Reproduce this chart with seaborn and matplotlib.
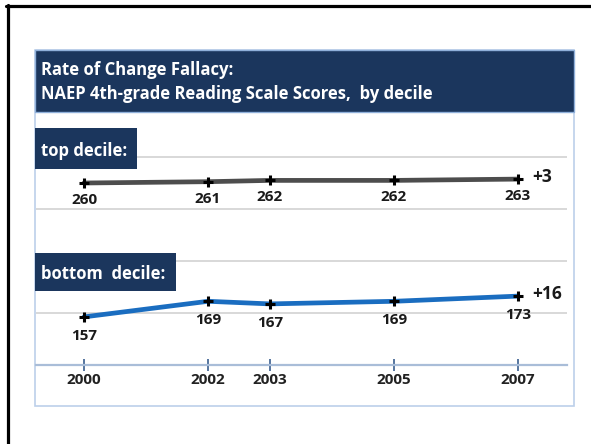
import matplotlib
matplotlib.use("Agg")
import matplotlib.pyplot as plt
from matplotlib.patches import Rectangle
from matplotlib.lines import Line2D
import pandas as pd
import seaborn as sns

# ---- data ----
years = [2000, 2002, 2003, 2005, 2007]
top_decile = [260, 261, 262, 262, 263]
bottom_decile = [157, 169, 167, 169, 173]
title_lines = ["Rate of Change Fallacy:", "NAEP 4th-grade Reading Scale Scores,  by decile"]
section_labels = ["top decile:", "bottom  decile:"]

sns.set_theme(style="white")
plt.rcParams["font.family"] = ["Open Sans", "DejaVu Sans"]

W, H = 591, 444
fig = plt.figure(figsize=(W / 100, H / 100), dpi=100)
fig.patch.set_facecolor("white")

def fx(x):
    return x / W

def fy(y):
    return 1 - y / H

def rect_px(x0, y0, x1, y1, **kw):
    r = Rectangle((fx(x0), fy(y1)), fx(x1) - fx(x0), fy(y0) - fy(y1),
                  transform=fig.transFigure, **kw)
    fig.add_artist(r)
    return r

NAVY = "#1B365D"

# outer frame (left + top only visible)
fig.add_artist(Line2D([fx(6), fx(591)], [fy(6.5), fy(6.5)], transform=fig.transFigure,
                      color="black", lw=2.3, zorder=10))
fig.add_artist(Line2D([fx(7.5), fx(7.5)], [fy(5), fy(444)], transform=fig.transFigure,
                      color="black", lw=2.3, zorder=10))

# panel
rect_px(35, 50, 574, 406, facecolor="white", edgecolor="#BCD0EA", lw=1.2, zorder=-1)

# axes
ax_left, ax_right, ax_top, ax_bottom = 36, 567, 112, 365
ax = fig.add_axes([fx(ax_left), fy(ax_bottom), fx(ax_right) - fx(ax_left), fy(ax_top) - fy(ax_bottom)])
ax.set_facecolor("none")

df = pd.DataFrame({"year": years + years,
                   "score": top_decile + bottom_decile,
                   "series": ["top"] * len(years) + ["bottom"] * len(years)})

sns.lineplot(data=df[df.series == "top"], x="year", y="score", ax=ax, color="#4D4D4D",
             linewidth=3.4, marker="+", markersize=6.5, markeredgewidth=2.2,
             markeredgecolor="black", legend=False, zorder=4)
sns.lineplot(data=df[df.series == "bottom"], x="year", y="score", ax=ax, color="#1A6DC0",
             linewidth=3.4, marker="+", markersize=6.5, markeredgewidth=2.2,
             markeredgecolor="black", legend=False, zorder=4)

ymin = 120
ymax = 120 + (ax_bottom - ax_top) / 1.3
xmin = 2000 - (84 - ax_left) / 62
xmax = 2000 + (ax_right - 84) / 62
ax.set_xlim(xmin, xmax)
ax.set_ylim(ymin, ymax)
ax.set_yticks([160, 200, 240, 280])
ax.yaxis.grid(True, color="#D6D6D6", lw=1.3)
ax.set_yticklabels([])
ax.tick_params(axis="y", length=0, left=False)
ax.set_xticks(years)
ax.set_xticklabels([str(y) for y in years], fontsize=11, fontweight="bold", color="#222222")
ax.tick_params(axis="x", bottom=True, direction="inout", length=8, width=1.4,
               color="#55759F", pad=2)
ax.set_xlabel("")
ax.set_ylabel("")
for s in ["left", "right", "top"]:
    ax.spines[s].set_visible(False)
ax.spines["bottom"].set_color("#A9BDD8")
ax.spines["bottom"].set_linewidth(1.6)

# data labels
for x, v in zip(years, top_decile):
    ax.annotate(str(v), (x, v), xytext=(0, -17), textcoords="offset pixels",
                ha="center", va="center", fontsize=11, fontweight="bold", color="#1A1A1A")
for x, v in zip(years, bottom_decile):
    ax.annotate(str(v), (x, v), xytext=(0, -19), textcoords="offset pixels",
                ha="center", va="center", fontsize=11, fontweight="bold", color="#1A1A1A")

# change labels
for series in [top_decile, bottom_decile]:
    d = series[-1] - series[0]
    ax.annotate(f"+{d}", (years[-1], series[-1]), xytext=(14, 2), textcoords="offset pixels",
                ha="left", va="center", fontsize=12.5, fontweight="bold", color="#1A1A1A")

# header
rect_px(35, 50, 574, 112, facecolor=NAVY, edgecolor="#8FB0DA", lw=1.0, zorder=5)
fig.text(fx(41), fy(75), title_lines[0], color="white", fontsize=12, fontweight="bold",
         ha="left", va="baseline", zorder=6)
fig.text(fx(41), fy(99), title_lines[1], color="white", fontsize=12, fontweight="bold",
         ha="left", va="baseline", zorder=6)

# section label boxes
rect_px(35, 128, 137, 169, facecolor=NAVY, edgecolor="none", zorder=5)
fig.text(fx(41), fy(156), section_labels[0], color="white", fontsize=12, fontweight="bold",
         ha="left", va="baseline", zorder=6)
rect_px(35, 253, 176, 291, facecolor=NAVY, edgecolor="none", zorder=5)
fig.text(fx(41), fy(279), section_labels[1], color="white", fontsize=12, fontweight="bold",
         ha="left", va="baseline", zorder=6)

fig.savefig("out.png", dpi=100, facecolor="white")
